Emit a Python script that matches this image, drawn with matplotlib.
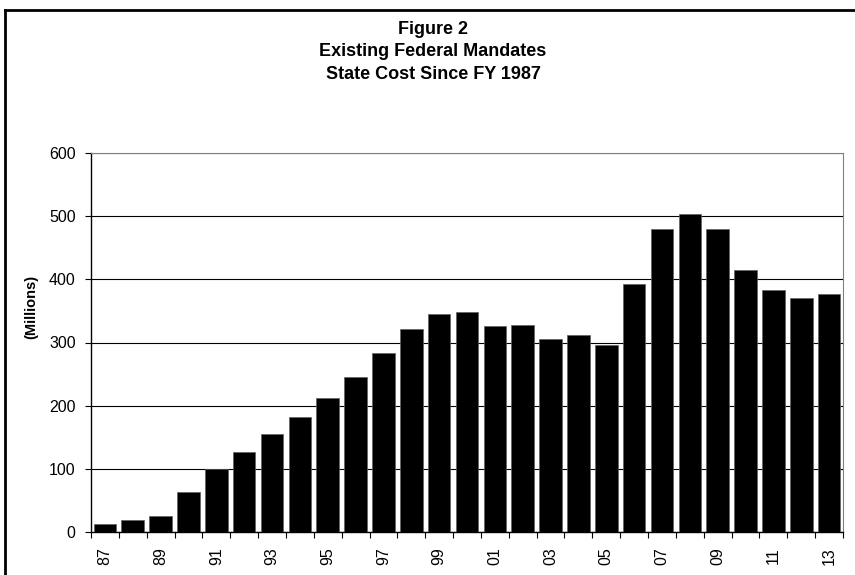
import matplotlib
matplotlib.use("Agg")
import matplotlib.pyplot as plt
import numpy as np

years = ["87","88","89","90","91","92","93","94","95","96","97","98","99","00",
         "01","02","03","04","05","06","07","08","09","10","11","12","13"]
costs = [13, 19, 25, 64, 99, 127, 155, 182, 212, 245, 284, 322, 345, 349,
         326, 328, 306, 312, 296, 392, 479, 503, 479, 414, 383, 371, 376]
yticks = [0, 100, 200, 300, 400, 500, 600]
title_lines = ["Figure 2", "Existing Federal Mandates", "State Cost Since FY 1987"]
ylabel = "(Millions)"

fam = "Liberation Sans"
plt.rcParams["font.family"] = [fam, "DejaVu Sans"]

W, H = 855, 575
fig = plt.figure(figsize=(W/100, H/100), dpi=100)
ax = fig.add_axes([91/W, 1-532/H, (843-91)/W, (532-153)/H])

x = np.arange(len(years))
ax.bar(x, costs, width=0.81, color="black", edgecolor="#606060", linewidth=0.5, zorder=3)

ax.set_xlim(-0.5, len(years)-0.5)
ax.set_ylim(0, 600)
ax.set_yticks(yticks)
ax.set_yticklabels([str(v) for v in yticks], fontsize=11.5)
ax.yaxis.grid(True, color="black", linewidth=0.8, zorder=0)
ax.tick_params(axis="y", direction="out", length=4, width=0.8, pad=7)

ax.set_xticks(x[::2])
ax.set_xticklabels(years[::2], rotation=90, fontsize=11.5)
ax.set_xticks(np.arange(len(years)+1)-0.5, minor=True)
ax.tick_params(axis="x", which="major", length=0, pad=11)
ax.tick_params(axis="x", which="minor", direction="out", length=4, width=0.8)

for s in ["top", "right"]:
    ax.spines[s].set_color("#808080")
    ax.spines[s].set_linewidth(0.8)
for s in ["left", "bottom"]:
    ax.spines[s].set_color("black")
    ax.spines[s].set_linewidth(1.0)

fig.text(31/W, 1-307/H, ylabel, rotation=90, ha="center", va="center",
         fontsize=10.5, fontweight="bold")

baselines = [34, 56.5, 79]
for t, yy in zip(title_lines, baselines):
    fig.text(433/W, 1-yy/H, t, ha="center", va="baseline", fontsize=13, fontweight="bold")

# outer frame (top and left)
fig.add_artist(plt.Line2D([5/W, 1.0], [1-10/H, 1-10/H], color="black", linewidth=2, transform=fig.transFigure))
fig.add_artist(plt.Line2D([5/W, 5/W], [0.0, 1-10/H], color="black", linewidth=2, transform=fig.transFigure))

fig.savefig("out.png", dpi=100)
